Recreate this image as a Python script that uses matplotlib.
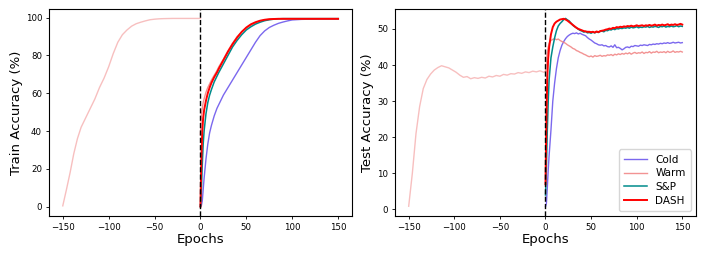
import matplotlib.pyplot as plt

# --- data ---
# pre-training (warm start) phase
pre_train_epochs = [-150, -146, -142, -138, -134, -130, -125, -120, -115, -110, -105, -100,
                    -95, -90, -85, -80, -75, -70, -65, -60, -55, -50, -45, -40, -30, -20, -10, 0]
pre_train = [0.4, 9, 18, 28, 36, 42, 47, 52, 57, 63, 68, 74,
             81, 87, 91, 93.5, 95.5, 96.8, 97.6, 98.3, 98.9, 99.2, 99.4, 99.5, 99.6, 99.6, 99.6, 99.6]

pre_test_epochs = list(range(-150, 0, 4)) + [0]
pre_test = [0.9, 10, 21, 28.5, 33.5, 36, 37.5, 38.6, 39.3, 39.8,
            39.5, 39.2, 38.6, 38.0, 37.2, 36.6, 36.8, 36.2, 36.5, 36.3,
            36.6, 36.4, 36.9, 36.7, 37.1, 36.9, 37.4, 37.2, 37.6, 37.5,
            37.9, 37.7, 38.1, 37.9, 38.3, 38.1, 38.4, 38.0, 38.2]

# training after the switch
train_epochs = [0, 1, 2, 3, 4, 6, 8, 10, 12, 15, 18, 20, 25, 30, 35, 40, 45, 50, 55, 60,
                65, 70, 75, 80, 85, 90, 95, 100, 110, 120, 130, 140, 150]
train_cold = [0, 0.5, 3, 9, 15, 25, 33, 39, 43, 48, 52, 54, 59, 63, 67, 71, 75, 79, 83, 87,
              90.5, 93, 94.8, 96, 97, 97.7, 98.3, 98.8, 99.1, 99.2, 99.3, 99.3, 99.3]
train_warm = [38, 48, 52, 55, 57, 60.5, 63, 65, 67, 69.5, 72, 74, 78, 82.5, 86.5, 90, 92.5, 94.5, 96, 97.2,
              98.2, 98.8, 99.1, 99.3, 99.4, 99.4, 99.4, 99.4, 99.4, 99.4, 99.4, 99.4, 99.4]
train_sp = [0, 8, 22, 33, 40, 49, 55, 59, 62, 66, 69, 71, 75.5, 80, 84.5, 88, 91, 93.5, 95.2, 96.6,
            97.6, 98.4, 98.9, 99.2, 99.4, 99.5, 99.5, 99.5, 99.5, 99.5, 99.5, 99.5, 99.5]
train_dash = [0, 25, 40, 47, 51, 56, 60, 63, 65.5, 68.5, 71, 73, 77.5, 82, 86, 89.5, 92.5, 94.8, 96.5, 97.6,
              98.4, 98.9, 99.2, 99.3, 99.4, 99.4, 99.4, 99.4, 99.4, 99.4, 99.4, 99.4, 99.4]

test_epochs = [0, 1, 2, 3, 4, 6, 8, 10] + list(range(12, 151, 2))
test_cold = [0.8, 1.7, 6, 11, 15, 22, 30, 35,
             39, 42, 44, 45.5, 46.5, 47.3, 47.9, 48.3, 48.6, 48.8,
             48.7, 48.9, 48.6, 48.8, 48.5, 48.3, 48.1, 47.6, 47.2, 46.9,
             46.5, 46.1, 45.9, 45.6, 45.5, 45.6, 45.3, 45.4, 45.1, 45.0,
             45.3, 44.9, 45.6, 44.8, 44.9, 44.6, 44.2, 44.5, 44.9, 45.0,
             44.8, 45.2, 45.1, 45.4, 45.3, 45.2, 45.5, 45.4, 45.6, 45.5,
             45.4, 45.7, 45.6, 45.8, 45.7, 45.9, 45.8, 46.0, 45.9, 46.1,
             46.0, 46.2, 46.0, 46.1, 46.3, 46.1, 46.2, 46.3, 46.1, 46.2]
test_warm = [38.2, 41, 43.5, 45, 46, 46.8, 47.1, 47.3,
             47.0, 47.2, 46.8, 46.5, 46.3, 46.0, 45.6, 45.3, 45.0, 44.6,
             44.4, 44.0, 43.8, 43.5, 43.3, 43.0, 42.8, 42.5, 42.3, 42.5,
             42.2, 42.6, 42.4, 42.5, 42.7, 42.4, 42.6, 42.5, 42.8, 42.7,
             42.9, 42.6, 43.0, 42.8, 43.1, 42.9, 43.2, 43.0, 43.3, 43.1,
             43.4, 43.0, 43.3, 43.5, 43.2, 43.4, 43.3, 43.6, 43.2, 43.5,
             43.4, 43.7, 43.3, 43.6, 43.5, 43.8, 43.4, 43.6, 43.5, 43.7,
             43.4, 43.8, 43.5, 43.6, 43.9, 43.5, 43.7, 43.6, 43.8, 43.6]
test_sp = [4, 12, 22, 30, 36, 42, 45, 47.5,
           49.5, 50.8, 51.5, 52.0, 52.6, 52.9, 52.5, 52.2, 51.6, 51.0,
           50.6, 50.3, 49.9, 49.6, 49.4, 49.1, 49.3, 48.9, 49.0, 48.8,
           49.1, 48.9, 49.2, 49.0, 49.3, 49.4, 49.2, 49.6, 49.5, 49.8,
           49.7, 50.0, 49.8, 50.1, 50.0, 50.2, 50.1, 50.3, 50.2, 50.4,
           50.2, 50.5, 50.3, 50.4, 50.6, 50.3, 50.5, 50.4, 50.6, 50.5,
           50.7, 50.4, 50.6, 50.5, 50.7, 50.6, 50.4, 50.7, 50.6, 50.8,
           50.5, 50.7, 50.6, 50.8, 50.6, 50.7, 50.9, 50.6, 50.8, 50.7]
test_dash = [7, 25, 37, 42, 45, 48.5, 50.5, 51.5,
             52.0, 52.3, 52.6, 52.7, 52.8, 52.6, 52.3, 51.9, 51.5, 51.1,
             50.7, 50.3, 50.0, 49.8, 49.6, 49.4, 49.3, 49.2, 49.2, 49.1,
             49.2, 49.0, 49.3, 49.1, 49.4, 49.5, 49.6, 49.8, 49.9, 50.1,
             50.0, 50.3, 50.2, 50.5, 50.4, 50.6, 50.5, 50.7, 50.6, 50.8,
             50.7, 50.9, 50.7, 50.8, 51.0, 50.8, 50.9, 51.0, 50.8, 51.0,
             50.9, 51.1, 50.9, 51.0, 51.2, 50.9, 51.1, 51.0, 51.2, 51.0,
             51.1, 51.3, 51.0, 51.2, 51.1, 51.3, 51.1, 51.2, 51.4, 51.2]

C_COLD = '#7b68ee'
C_WARM = '#f08080'
C_SP = '#008b8b'
C_DASH = '#ff0000'

fig = plt.figure(figsize=(7.06, 2.57), dpi=100)
ax1 = fig.add_axes([0.0694, 0.1595, 0.429, 0.8054])
ax2 = fig.add_axes([0.5595, 0.1595, 0.4263, 0.8054])

panels = [
    (ax1, pre_train_epochs, pre_train, train_epochs,
     train_cold, train_warm, train_sp, train_dash, 'Train Accuracy (%)'),
    (ax2, pre_test_epochs, pre_test, test_epochs,
     test_cold, test_warm, test_sp, test_dash, 'Test Accuracy (%)'),
]

for ax, pre_x, pre, x, cold, warm, sp, dash, ylab in panels:
    ax.plot(pre_x, pre, color=C_WARM, alpha=0.5, lw=1.0)
    ax.plot(x, cold, color=C_COLD, lw=1.0, label='Cold')
    ax.plot(x, warm, color=C_WARM, lw=1.0, alpha=0.85, label='Warm')
    ax.plot(x, sp, color=C_SP, lw=1.1, label='S&P')
    ax.plot(x, dash, color=C_DASH, lw=1.4, label='DASH')
    ax.axvline(0, color='black', ls='--', lw=1.0)
    ax.set_xlabel('Epochs', fontsize=9.5, labelpad=1)
    ax.set_ylabel(ylab, fontsize=9.5, labelpad=2)
    ax.tick_params(labelsize=6.2, length=2.5, width=0.6, pad=2.5)
    for s in ax.spines.values():
        s.set_linewidth(0.8)
    ax.set_xticks([-150, -100, -50, 0, 50, 100, 150])

ax1.set_yticks([0, 20, 40, 60, 80, 100])
ax2.set_yticks([0, 10, 20, 30, 40, 50])
ax2.legend(loc='lower right', fontsize=7.5, handlelength=2.2, borderpad=0.5, labelspacing=0.35)

fig.savefig('out.png', dpi=100)
